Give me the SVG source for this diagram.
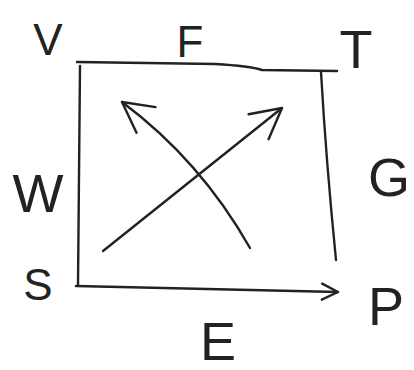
<svg xmlns="http://www.w3.org/2000/svg" width="414" height="370" viewBox="0 0 414 370">
<style>
.ln{fill:none;stroke:#222;stroke-width:2.4;stroke-linecap:round;stroke-linejoin:round}
.lb{font-family:"Liberation Sans","DejaVu Sans",sans-serif;font-size:44px;fill:#222;text-anchor:middle}
.lg{font-size:54px}
</style>
<defs>
<marker id="ah" viewBox="0 0 20 20" refX="18" refY="10" markerWidth="20" markerHeight="20" markerUnits="userSpaceOnUse" orient="auto">
<path d="M2,2 L18,10 L2,18" fill="none" stroke="#222" stroke-width="2.4" stroke-linecap="round" stroke-linejoin="round"/>
</marker>
<marker id="ahb" viewBox="0 0 40 40" refX="38" refY="20" markerWidth="40" markerHeight="40" markerUnits="userSpaceOnUse" orient="auto">
<path d="M8,4 L38,20 L8,36" fill="none" stroke="#222" stroke-width="2.4" stroke-linecap="round" stroke-linejoin="round"/>
</marker>
</defs>
<rect width="414" height="370" fill="#fff"/>
<g id="connectors">
<path class="ln" d="M77,62 L215,64 Q250,66 262,70 L337,71"/>
<path class="ln" d="M80,66 L78,285"/>
<path class="ln" d="M321,72 Q326,160 336,260"/>
<path class="ln" d="M76,286 L338,292" marker-end="url(#ah)"/>
<path class="ln" d="M103,251 L282,108" marker-end="url(#ahb)"/>
<path class="ln" d="M250,248 Q200,160 122,102" marker-end="url(#ahb)"/>
</g>
<g id="node-V"><text class="lb" x="48" y="55">V</text></g>
<g id="node-F"><text class="lb" x="190" y="57">F</text></g>
<g id="node-T"><text class="lb lg" x="356" y="68">T</text></g>
<g id="node-W"><text class="lb lg" x="38" y="212">W</text></g>
<g id="node-G"><text class="lb lg" x="389" y="196">G</text></g>
<g id="node-S"><text class="lb" x="38" y="300">S</text></g>
<g id="node-P"><text class="lb lg" x="386" y="325">P</text></g>
<g id="node-E"><text class="lb lg" x="218" y="360">E</text></g>
</svg>
